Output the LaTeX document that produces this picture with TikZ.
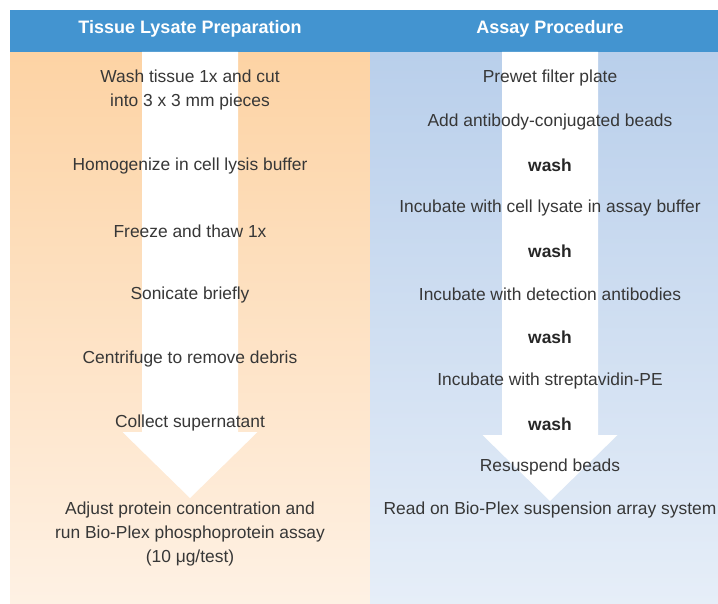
\documentclass[tikz,border=0pt]{standalone}
\usepackage{fontspec}
\setmainfont{Liberation Sans}
\usetikzlibrary{positioning}
\definecolor{HeadBlue}{RGB}{67,148,208}
\definecolor{PeachTop}{RGB}{253,211,164}
\definecolor{PeachBot}{RGB}{254,241,228}
\definecolor{SkyTop}{RGB}{185,207,235}
\definecolor{SkyBot}{RGB}{230,238,248}
\definecolor{InkGray}{RGB}{55,55,55}
\tikzset{
  header/.style={font=\bfseries\fontsize{18}{21}\selectfont,text=white,align=center},
  stepText/.style={font=\fontsize{17.4}{24}\selectfont,text=InkGray,align=center},
  washText/.style={font=\bfseries\fontsize{17.4}{20}\selectfont,text=black!85,align=center},
  flowArrow/.style={fill=white,draw=none}
}

\begin{document}
\begin{tikzpicture}[x=1pt,y=-1pt]
  \useasboundingbox (0,0) rectangle (718,604);
  % panels
  \shade[top color=PeachTop,bottom color=PeachBot] (10,52) rectangle (370,604);
  \shade[top color=SkyTop,bottom color=SkyBot] (370,52) rectangle (718,604);
  \fill[HeadBlue] (10,10) rectangle (718,52);
  % big arrows
  \fill[flowArrow] (142,52) -- (238,52) -- (238,432) -- (257.5,432) -- (190,498) -- (122.5,432) -- (142,432) -- cycle;
  \fill[flowArrow] (502,52) -- (598,52) -- (598,435) -- (617.5,435) -- (550,501) -- (482.5,435) -- (502,435) -- cycle;
  % headers
  \node[header] (hleft) at (190,29) {Tissue Lysate Preparation};
  \node[header] (hright) at (550,29) {Assay Procedure};
  % tissue lysate steps
  \node[stepText] (wash) at (190,90) {Wash tissue 1x and cut\\into 3 x 3 mm pieces};
  \node[stepText] (homog) at (190,166) {Homogenize in cell lysis buffer};
  \node[stepText] (freeze) at (190,231) {Freeze and thaw 1x};
  \node[stepText] (sonic) at (190,295) {Sonicate briefly};
  \node[stepText] (centr) at (190,359) {Centrifuge to remove debris};
  \node[stepText] (collect) at (190,423) {Collect supernatant};
  \node[stepText] (adjust) at (190,534) {Adjust protein concentration and\\run Bio-Plex phosphoprotein assay\\(10 μg/test)};
  % assay steps
  \node[stepText] (prewet) at (550,78) {Prewet filter plate};
  \node[stepText] (beads) at (550,122) {Add antibody-conjugated beads};
  \node[washText] (washA) at (550,165) {wash};
  \node[stepText] (lysate) at (550,208) {Incubate with cell lysate in assay buffer};
  \node[washText] (washB) at (550,251) {wash};
  \node[stepText] (detect) at (550,294) {Incubate with detection antibodies};
  \node[washText] (washC) at (550,337) {wash};
  \node[stepText] (strep) at (550,381) {Incubate with streptavidin-PE};
  \node[washText] (washD) at (550,424) {wash};
  \node[stepText] (resusp) at (550,467) {Resuspend beads};
  \node[stepText] (read) at (550,510) {Read on Bio-Plex suspension array system};
\end{tikzpicture}
\end{document}
